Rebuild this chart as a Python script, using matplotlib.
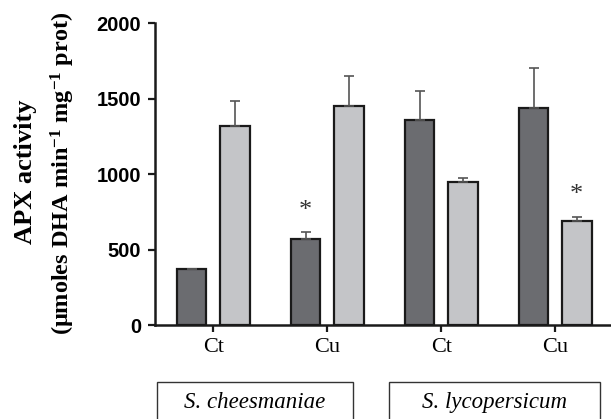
import matplotlib.pyplot as plt
from matplotlib.patches import Rectangle
import numpy as np

plt.rcParams['mathtext.fontset'] = 'custom'
plt.rcParams['mathtext.rm'] = 'Liberation Serif:bold'
plt.rcParams['mathtext.it'] = 'Liberation Serif:bold'
plt.rcParams['mathtext.bf'] = 'Liberation Serif:bold'

groups = ['Ct', 'Cu', 'Ct', 'Cu']
species = ['S. cheesmaniae', 'S. lycopersicum']
dark_vals = [370, 570, 1360, 1440]
dark_err = [0, 46, 190, 260]
light_vals = [1320, 1450, 950, 690]
light_err = [163, 200, 25, 25]
stars = [(1, 'dark', 755), (3, 'light', 860)]

dark_col = '#6b6c70'
light_col = '#c4c5c8'

fig = plt.figure(figsize=(6.11, 4.19), dpi=100)
ax = fig.add_axes([0.254, 0.224, 0.746, 0.721])

x = np.arange(len(groups))
w = 0.26
off = 0.19
ax.bar(x - off, dark_vals, w, color=dark_col, edgecolor='#1a1a1a', linewidth=1.6,
       yerr=[np.zeros(4), dark_err], error_kw=dict(ecolor='#555555', elinewidth=1.2, capsize=3.5, capthick=1.2))
ax.bar(x + off, light_vals, w, color=light_col, edgecolor='#1a1a1a', linewidth=1.6,
       yerr=[np.zeros(4), light_err], error_kw=dict(ecolor='#555555', elinewidth=1.2, capsize=3.5, capthick=1.2))

for i, which, yv in stars:
    xs = i - off if which == 'dark' else i + off
    ax.text(xs, yv, '*', ha='center', va='center', fontsize=19, family='Liberation Serif', color='#333333')

ax.set_xlim(-0.51, 3.49)
ax.set_ylim(0, 2000)
ax.set_yticks([0, 500, 1000, 1500, 2000])
ax.set_xticks(x)
ax.set_xticklabels(groups, family='Liberation Serif', fontsize=16)
for lab in ax.get_yticklabels():
    lab.set_family('Liberation Sans')
    lab.set_fontweight('bold')
    lab.set_fontsize(14.5)
ax.tick_params(axis='both', width=1.6, length=5, color='#1a1a1a')
ax.tick_params(axis='x', pad=4)
ax.tick_params(axis='y', pad=5)
for s in ['top', 'right']:
    ax.spines[s].set_visible(False)
for s in ['left', 'bottom']:
    ax.spines[s].set_linewidth(1.8)
    ax.spines[s].set_color('#1a1a1a')

fig.text(0.041, 0.59, 'APX activity', rotation=90, ha='center', va='center',
         family='Liberation Serif', fontweight='bold', fontsize=19)
fig.text(0.103, 0.585, r'($\mathbf{\mu}$moles DHA min$^{-1}$ mg$^{-1}$ prot)', rotation=90,
         ha='center', va='center', family='Liberation Serif', fontweight='bold', fontsize=17.5)

boxes = [(157, 353), (389, 600)]
for (x0, x1), name in zip(boxes, species):
    fig.patches.append(Rectangle((x0 / 611, -0.05), (x1 - x0) / 611, 1 - 382 / 419 + 0.05,
                                 transform=fig.transFigure, fill=False, edgecolor='#333333', linewidth=1.0))
    fig.text((x0 + x1) / 2 / 611, 1 - 402 / 419, name, ha='center', va='center',
             family='Liberation Serif', style='italic', fontsize=16.5)

fig.savefig('out.png', dpi=100)
